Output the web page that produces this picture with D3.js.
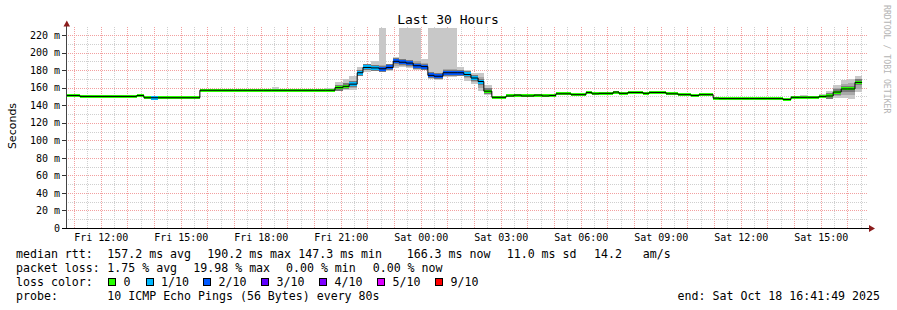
<!DOCTYPE html>
<html>
<head>
<meta charset="utf-8">
<script src="https://cdn.jsdelivr.net/npm/d3@7"></script>
<style>
html, body { margin: 0; padding: 0; background: #fff; }
svg { display: block; }
text { font-family: "DejaVu Sans Mono", monospace; fill: #000; }
</style>
</head>
<body>
<div id="chart"></div>
<script>
// ---- data ----
var windowStart = "2025-10-17 10:41:49";
var windowEnd = "2025-10-18 16:41:49";
var dataEnd = "18 16:33";

// start of each consolidated step, "day HH:MM" in Oct 2025
var segTime = ["17 10:42","17 11:13","17 13:21","17 13:37","17 13:53","17 14:09","17 15:43","17 17:00","17 17:20","17 17:38",
  "17 18:07","17 18:25","17 18:41","17 20:00","17 20:25","17 20:47","17 21:05","17 21:19","17 21:37","17 21:50",
  "17 22:08","17 22:26","17 22:42","17 22:58","17 23:11","17 23:27","17 23:43","18 00:01","18 00:16","18 00:30",
  "18 00:50","18 01:22","18 01:37","18 01:53","18 02:09","18 02:22","18 02:40","18 03:12","18 03:30","18 03:46",
  "18 04:15","18 04:33","18 04:49","18 05:04","18 05:20","18 05:38","18 06:12","18 06:25","18 06:41","18 07:13",
  "18 07:26","18 07:46","18 08:20","18 08:34","18 09:12","18 09:39","18 10:08","18 10:26","18 10:58","18 11:11",
  "18 12:19","18 12:32","18 13:35","18 13:53","18 14:13","18 14:31","18 14:56","18 15:12","18 15:28","18 15:46",
  "18 16:01","18 16:17"];

// median rtt, ms
var medianMs = [151,150,151,148.5,148.5,148.5,157,157,157,157,
  157,157,157,157,157,160,161.5,164,177,183,
  182.5,181.5,183,190,189,188,185,184,174,173,
  177,177,175,171,167,156,149,150.5,151.5,150.5,
  151.5,150.5,151,153,153,152,154.5,153,153.5,155,
  153.5,154.5,153.5,154.5,153,152,151,152,148,147.5,
  147.5,147.5,146.5,149,149,149,150,150.5,155,158.5,
  158.5,166];

// packets lost out of 10
var lossTenths = [0,0,0,0,1,0,0,0,0,0,
  0,0,0,0,0,0,0,1,1,1,
  1,2,2,2,2,2,2,2,2,2,
  2,2,1,1,1,0,0,0,0,0,
  0,0,0,0,0,0,0,0,0,0,
  0,0,0,0,0,0,0,0,0,0,
  0,0,0,0,0,0,0,0,0,0,
  0,0];

// smoke: fastest / slowest ping, ms
var smokeLo = [151,150,151,148.5,148.5,148.5,157,157,157,157,
  157,157,157,157,156.5,157,157,157,173,178,
  179,178,179,182,183,182,180,180,170,169,
  172,173,168,164,156,152,149,150.5,151.5,150.5,
  151.5,150.5,151,152,152,152,153,153,153.5,154,
  153.5,154.5,153,154,152.5,152,151,152,148,147.5,
  147.5,147.5,146.5,149,149,149,148,148,148,148,
  147,155];
var smokeHi = [151,150,151,148.5,148.5,148.5,157,159,157,159,
  157,161,157,158.5,159.5,167,170,173,183,185,
  190,228,187,195,228,228,228,193,228,228,
  228,183,180,177,177,163,149,151.5,152.5,150.5,
  153,150.5,151,154,155,152,155,153,153.5,156,
  153.5,154.5,155,156,155.5,152,151,152,148,147.5,
  149,147.5,146.5,149,152,149,153,156.5,163,169,
  170,173];

// denser inner part of the smoke, ms
var coreLo = [151,150,151,148.5,148.5,148.5,157,157,157,157,
  157,157,157,157,156.5,158,159,160,175,180,
  180,179,180,185,185,184,182,181,171,171,
  174,175,171,167,160,154,149,150.5,151.5,150.5,
  151.5,150.5,151,153,153,152,154.5,153,153.5,155,
  153.5,154.5,153.5,154.5,153,152,151,152,148,147.5,
  147.5,147.5,146.5,149,149,149,149,149,150,152,
  152,159];
var coreHi = [151,150,151,148.5,148.5,148.5,157,157,157,157,
  157,157,157,157,158.5,163,165,168,180,184,
  186,186,185,192,193,191,190,188,178,177,
  181,180,178,174,172,160,149,150.5,151.5,150.5,
  151.5,150.5,151,153,153,152,154.5,153,153.5,155,
  153.5,154.5,153.5,154.5,153,152,151,152,148,147.5,
  147.5,147.5,146.5,149,149,149,152,153,160,164,
  165,170];

var yTickValues = [0,20,40,60,80,100,120,140,160,180,200,220];

var lossSteps = [0,1,2,3,4,5,9];
var lossLabels = ["0","1/10","2/10","3/10","4/10","5/10","9/10"];
var lossColors = ["#26ff00","#00b8ff","#0059ff","#5e00ff","#7e00ff","#dd00ff","#ff0000"];

var rttStats = ["157.2 ms avg","190.2 ms max","147.3 ms min","166.3 ms now","11.0 ms sd","14.2","am/s"];
var lossStats = ["1.75 % avg","19.98 % max","0.00 % min","0.00 % now"];
var probeText = "10 ICMP Echo Pings (56 Bytes) every 80s";
var endText = "end: Sat Oct 18 16:41:49 2025";

// ---- setup ----
var W = 897, H = 310;
var parseFull = d3.timeParse("%Y-%m-%d %H:%M:%S");
var parseSeg = function (s) { return d3.timeParse("%Y-%m-%d %H:%M")("2025-10-" + s); };

var tStart = parseFull(windowStart), tEnd = parseFull(windowEnd);

var x = d3.scaleTime().domain([tStart, tEnd]).range([66, 866]);
var y = d3.scaleLinear().domain([0, 228]).range([228, 28]);

var rows = segTime.map(function (s, i) {
	return {
		t0: parseSeg(s),
		t1: parseSeg(i + 1 < segTime.length ? segTime[i + 1] : dataEnd),
		med: medianMs[i], loss: lossTenths[i],
		lo: smokeLo[i], hi: smokeHi[i], clo: coreLo[i], chi: coreHi[i]
	};
});

function lossColor(n) {
	var k = lossSteps.indexOf(n);
	return k < 0 ? "#ff0000" : lossColors[k];
}

var svg = d3.select("#chart").append("svg").attr("width", W).attr("height", H);

// ---- grid ----
var grid = svg.append("g").attr("shape-rendering", "crispEdges");
var px = function (v) { return Math.round(v) + 0.5; };

var minorX = d3.timeMinute.every(30).range(tStart, tEnd);
var majorX = d3.timeHour.every(1).range(tStart, tEnd);

grid.selectAll(".vminor").data(minorX).enter().append("line")
	.attr("x1", function (d) { return px(x(d)); }).attr("x2", function (d) { return px(x(d)); })
	.attr("y1", 27).attr("y2", 228)
	.attr("stroke", "#cfcfcf").attr("stroke-dasharray", "1,1");

var minorY = d3.range(10, 228, 20);
grid.selectAll(".hminor").data(minorY).enter().append("line")
	.attr("x1", 66).attr("x2", 868)
	.attr("y1", function (d) { return px(y(d)); }).attr("y2", function (d) { return px(y(d)); })
	.attr("stroke", "#cfcfcf").attr("stroke-dasharray", "1,1");

grid.selectAll(".vmajor").data(majorX).enter().append("line")
	.attr("x1", function (d) { return px(x(d)); }).attr("x2", function (d) { return px(x(d)); })
	.attr("y1", 27).attr("y2", 228)
	.attr("stroke", "#f2a0a0").attr("stroke-dasharray", "1,1");

grid.selectAll(".hmajor").data(yTickValues.slice(1)).enter().append("line")
	.attr("x1", 66).attr("x2", 868)
	.attr("y1", function (d) { return px(y(d)); }).attr("y2", function (d) { return px(y(d)); })
	.attr("stroke", "#f2a0a0").attr("stroke-dasharray", "1,1");

// ---- smoke ----
var plot = svg.append("g").attr("shape-rendering", "crispEdges");

plot.selectAll(".smoke").data(rows.filter(function (d) { return d.hi > d.lo; })).enter().append("rect")
	.attr("x", function (d) { return x(d.t0); })
	.attr("width", function (d) { return x(d.t1) - x(d.t0); })
	.attr("y", function (d) { return y(d.hi); })
	.attr("height", function (d) { return y(d.lo) - y(d.hi); })
	.attr("fill", "#c8c8c8");

plot.selectAll(".core").data(rows.filter(function (d) { return d.chi > d.clo; })).enter().append("rect")
	.attr("x", function (d) { return x(d.t0); })
	.attr("width", function (d) { return x(d.t1) - x(d.t0); })
	.attr("y", function (d) { return y(d.chi); })
	.attr("height", function (d) { return y(d.clo) - y(d.chi); })
	.attr("fill", "#a8a8a8");

plot.selectAll(".dark").data(rows.filter(function (d) { return d.hi - d.lo > 5; })).enter().append("rect")
	.attr("x", function (d) { return x(d.t0); })
	.attr("width", function (d) { return x(d.t1) - x(d.t0); })
	.attr("y", function (d) { return y(d.med) - 3; })
	.attr("height", 6)
	.attr("fill", "#7a7a7a");

// median step line
var pts = rows.map(function (d) { return [d.t0, d.med]; });
pts.push([rows[rows.length - 1].t1, rows[rows.length - 1].med]);
var line = d3.line().x(function (d) { return x(d[0]); }).y(function (d) { return y(d[1]); }).curve(d3.curveStepAfter);
svg.append("path").attr("d", line(pts)).attr("fill", "none").attr("stroke", "#000").attr("stroke-width", 1);

// loss coloured median band
plot.selectAll(".loss").data(rows).enter().append("rect")
	.attr("x", function (d) { return x(d.t0); })
	.attr("width", function (d) { return x(d.t1) - x(d.t0); })
	.attr("y", function (d) { return y(d.med) - (d.loss ? 2 : 1.5); })
	.attr("height", function (d) { return d.loss ? 4 : 3; })
	.attr("fill", function (d) { return lossColor(d.loss); });

// ---- axes ----
var yAxis = d3.axisLeft(y).tickValues(yTickValues).tickSize(0).tickPadding(6)
	.tickFormat(function (d) { return d === 0 ? "0" : d + " m"; });
var gy = svg.append("g").attr("transform", "translate(66,0)").call(yAxis);
gy.select(".domain").remove();
gy.selectAll("text").attr("font-family", "DejaVu Sans Mono").attr("font-size", 10).attr("fill", "#000");

var xAxis = d3.axisBottom(x).ticks(d3.timeHour.every(3)).tickSize(0).tickPadding(6)
	.tickFormat(d3.timeFormat("%a %H:%M"));
var gx = svg.append("g").attr("transform", "translate(0,228)").call(xAxis);
gx.select(".domain").remove();
gx.selectAll("text").attr("font-family", "DejaVu Sans Mono").attr("font-size", 10).attr("fill", "#000");

var ax = svg.append("g").attr("shape-rendering", "crispEdges");
ax.selectAll(".ytick").data(yTickValues).enter().append("line")
	.attr("x1", 62).attr("x2", 66)
	.attr("y1", function (d) { return px(y(d)); }).attr("y2", function (d) { return px(y(d)); })
	.attr("stroke", "#333");
ax.append("line").attr("x1", 66.5).attr("x2", 66.5).attr("y1", 24).attr("y2", 228).attr("stroke", "#444");
ax.append("line").attr("x1", 62).attr("x2", 870).attr("y1", 228.5).attr("y2", 228.5).attr("stroke", "#000");
svg.append("path").attr("d", "M63.5,26.5L70,26.5L66.8,20.5Z").attr("fill", "#8b1c1c");
svg.append("path").attr("d", "M869,225L869,232L875,228.5Z").attr("fill", "#8b1c1c");

// ---- titles ----
svg.append("text").attr("x", 448).attr("y", 24).attr("text-anchor", "middle")
	.attr("font-size", 13).text("Last 30 Hours");
svg.append("text").attr("transform", "translate(16,126) rotate(-90)").attr("text-anchor", "middle")
	.style("font-family", "DejaVu Sans").attr("font-size", 11).text("Seconds");
svg.append("text").attr("transform", "translate(884,5) rotate(90)")
	.attr("font-size", 8.2).style("fill", "#b4b4b4").text("RRDTOOL / TOBI OETIKER");

// ---- legend ----
var leg = svg.append("g").attr("font-size", 11.6);
var rowY = [257.7, 271.7, 285.7, 299.7];

leg.append("text").attr("x", 16).attr("y", rowY[0]).text("median rtt:");
var rttX = [107.3, 207.3, 298.3, 406.7, 506.7, 594, 642.7];
rttStats.forEach(function (s, i) {
	leg.append("text").attr("x", rttX[i]).attr("y", rowY[0]).text(s);
});

leg.append("text").attr("x", 16).attr("y", rowY[1]).text("packet loss:");
var lossX = [107.3, 193.3, 286, 372.7];
lossStats.forEach(function (s, i) {
	leg.append("text").attr("x", lossX[i]).attr("y", rowY[1]).text(s);
});

leg.append("text").attr("x", 16).attr("y", rowY[2]).text("loss color:");
var swX = [108.5, 146, 203.5, 261.5, 319.5, 377.5, 435.5];
lossLabels.forEach(function (s, i) {
	leg.append("rect").attr("x", swX[i]).attr("y", 278.5).attr("width", 7).attr("height", 7)
		.attr("fill", lossColors[i]).attr("stroke", "#000").attr("stroke-width", 1)
		.attr("shape-rendering", "crispEdges");
	leg.append("text").attr("x", swX[i] + 15).attr("y", rowY[2]).text(s);
});

leg.append("text").attr("x", 16).attr("y", rowY[3]).text("probe:");
leg.append("text").attr("x", 107.3).attr("y", rowY[3]).text(probeText);
leg.append("text").attr("x", 880).attr("y", rowY[3]).attr("text-anchor", "end").text(endText);
</script>
</body>
</html>
